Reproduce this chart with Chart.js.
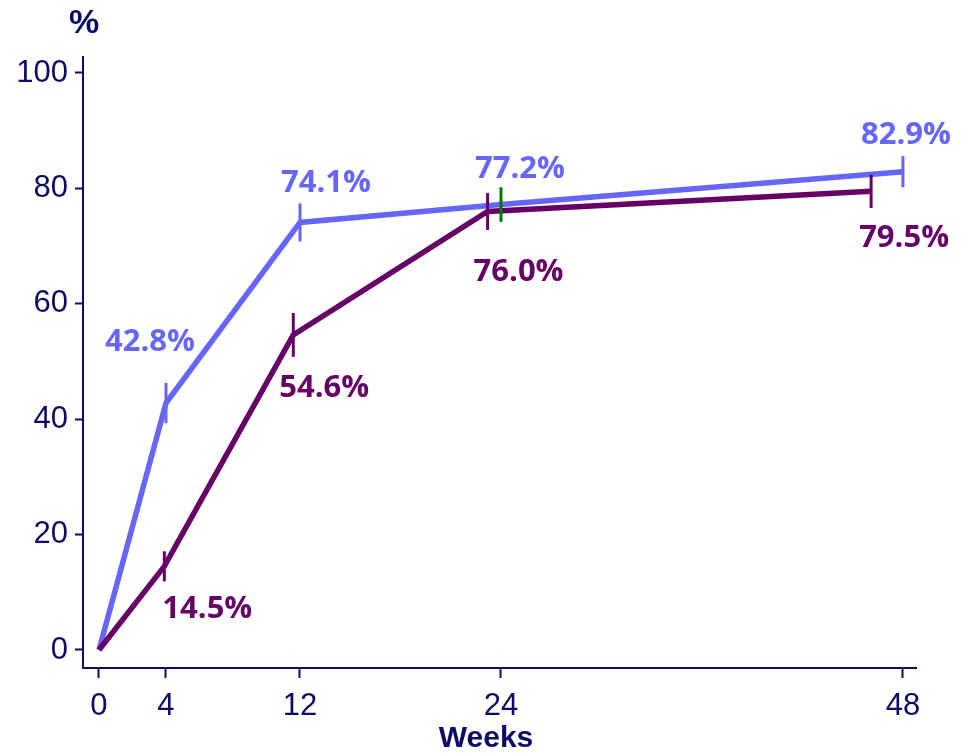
<!DOCTYPE html>
<html>
<head>
<meta charset="utf-8">
<script src="https://cdn.jsdelivr.net/npm/chart.js@4/dist/chart.umd.min.js"></script>
<style>
  html, body { margin: 0; padding: 0; background: #ffffff; }
  #wrap { width: 963px; height: 753px; position: relative; }
</style>
</head>
<body>
<div id="wrap"><canvas id="chart" width="963" height="753"></canvas></div>
<script>
// Response rate (%) over time, two treatment arms
const weekTicks = [0, 4, 12, 24, 48];
const percentTicks = [0, 20, 40, 60, 80, 100];

const blueWeeks = [0, 4, 12, 24, 48];
const blueRates = [0, 42.8, 74.1, 77.2, 82.9];
const blueBars = [0, 3.5, 3.3, 3.0, 2.7];      // half-length of the vertical marker, in %
const blueLabels = ['', '42.8%', '74.1%', '77.2%', '82.9%'];

const purpleWeeks = [0, 3.9, 11.6, 23.2, 46.1];
const purpleRates = [0, 14.5, 54.6, 76.0, 79.5];
const purpleBars = [0, 2.6, 3.8, 3.2, 2.9];
const purpleLabels = ['', '14.5%', '54.6%', '76.0%', '79.5%'];

const NAVY = '#0b0b66';
const BLUE = '#6666ff';
const PURPLE = '#660066';
const GREEN = '#007a00';

const toPoints = (xs, ys) => xs.map((x, i) => ({ x: x, y: ys[i] }));

// vertical interval markers + value labels for every point
const markersPlugin = {
  id: 'markers',
  afterDatasetsDraw(chart, args, opts) {
    const ctx = chart.ctx;
    const xs = chart.scales.x, ys = chart.scales.y;
    chart.data.datasets.forEach((ds, di) => {
      const cfg = opts.series[di];
      ds.data.forEach((p, i) => {
        const half = cfg.bars[i];
        if (!half) return;
        const px = xs.getPixelForValue(p.x);
        ctx.save();
        ctx.strokeStyle = (cfg.markerColors && cfg.markerColors[i]) || ds.borderColor;
        ctx.lineWidth = 3;
        ctx.beginPath();
        ctx.moveTo(px, ys.getPixelForValue(p.y + half));
        ctx.lineTo(px, ys.getPixelForValue(p.y - half));
        ctx.stroke();
        ctx.restore();
      });
    });
    chart.data.datasets.forEach((ds, di) => {
      const cfg = opts.series[di];
      ds.data.forEach((p, i) => {
        const text = cfg.labels[i];
        if (!text) return;
        const px = xs.getPixelForValue(p.x) + cfg.offsets[i][0];
        const py = ys.getPixelForValue(p.y) + cfg.offsets[i][1];
        ctx.save();
        ctx.font = 'bold 31px "Open Sans", sans-serif';
        ctx.fillStyle = ds.borderColor;
        ctx.textAlign = 'center';
        ctx.textBaseline = 'middle';
        ctx.fillText(text, px, py);
        ctx.restore();
      });
    });
  }
};

// unit and axis captions
const captionsPlugin = {
  id: 'captions',
  afterDraw(chart) {
    const ctx = chart.ctx;
    ctx.save();
    ctx.fillStyle = NAVY;
    ctx.textAlign = 'center';
    ctx.textBaseline = 'middle';
    ctx.font = 'bold 34px "Liberation Sans", Arial, sans-serif';
    ctx.fillText('%', 84, 24);
    ctx.font = 'bold 30px "Liberation Sans", Arial, sans-serif';
    ctx.fillText('Weeks', 486, 739);
    ctx.restore();
  }
};

new Chart(document.getElementById('chart'), {
  type: 'line',
  data: {
    datasets: [
      {
        label: 'Arm A',
        data: toPoints(purpleWeeks, purpleRates),
        borderColor: PURPLE,
        borderWidth: 5.5,
        pointRadius: 0,
        tension: 0,
        order: 0
      },
      {
        label: 'Arm B',
        data: toPoints(blueWeeks, blueRates),
        borderColor: BLUE,
        borderWidth: 5.5,
        pointRadius: 0,
        tension: 0,
        order: 1
      }
    ]
  },
  options: {
    responsive: false,
    animation: false,
    layout: { padding: { left: 0, right: 47, top: 57, bottom: 0 } },
    plugins: {
      legend: { display: false },
      tooltip: { enabled: false },
      markers: {
        series: [
          {
            bars: purpleBars,
            labels: purpleLabels,
            offsets: [[0, 0], [43, 43], [31, 53], [31, 61], [33, 47]]
          },
          {
            bars: blueBars,
            labels: blueLabels,
            markerColors: [null, null, null, GREEN, null],
            offsets: [[0, 0], [-16, -61], [26, -39], [19, -35], [3, -36]]
          }
        ]
      }
    },
    scales: {
      x: {
        type: 'linear',
        min: -0.955,
        max: 48.78,
        afterBuildTicks(scale) { scale.ticks = weekTicks.map(v => ({ value: v })); },
        afterFit(scale) { scale.height = 85; },
        border: { display: true, color: NAVY, width: 2 },
        grid: { display: true, drawOnChartArea: false, drawTicks: true, tickLength: 10, tickWidth: 2, color: NAVY },
        ticks: {
          autoSkip: false,
          maxRotation: 0,
          padding: 10,
          color: NAVY,
          font: { family: '"Liberation Sans", Arial, sans-serif', size: 31 }
        }
      },
      y: {
        type: 'linear',
        min: -3.12,
        max: 102.77,
        afterBuildTicks(scale) { scale.ticks = percentTicks.map(v => ({ value: v })); },
        afterFit(scale) { scale.width = 83; },
        border: { display: true, color: NAVY, width: 2 },
        grid: { display: true, drawOnChartArea: false, drawTicks: true, tickLength: 8, tickWidth: 2, color: NAVY },
        ticks: {
          padding: 7,
          color: NAVY,
          font: { family: '"Liberation Sans", Arial, sans-serif', size: 31 }
        }
      }
    }
  },
  plugins: [markersPlugin, captionsPlugin]
});
</script>
</body>
</html>
